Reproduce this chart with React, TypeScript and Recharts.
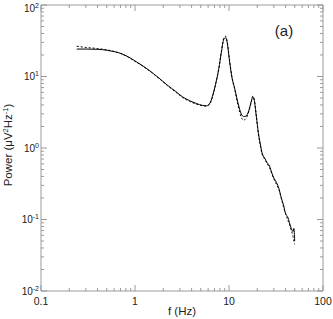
import React from 'react';
import { LineChart, Line, XAxis, YAxis } from 'recharts';

// frequency grid (Hz) and the two power spectra (uV^2/Hz)
const freqs = [
  0.24, 0.3, 0.4, 0.5, 0.6, 0.7, 0.85, 1.0, 1.2, 1.5, 1.8, 2.2, 2.7, 3.2, 3.8, 4.5,
  5.2, 5.8, 6.3, 6.8, 7.3, 7.8, 8.3, 8.8, 9.2, 9.6, 10.1, 10.7, 11.5, 12.5, 13.5,
  14.3, 15.2, 16.2, 17.2, 17.9, 18.6, 19.5, 20.5, 21.5, 22.5, 24, 25.5, 27, 28.5,
  30, 32, 34, 36, 38, 40, 42, 44, 46, 48, 49, 50,
];
const solidPower = [
  24.2, 24.2, 24.0, 23.3, 22.3, 21.1, 18.8, 16.5, 14.2, 11.5, 9.5, 7.6, 6.2, 5.2, 4.6, 4.2,
  3.95, 3.9, 4.3, 5.8, 8.5, 13, 22, 33, 35, 29, 17, 10, 6.8, 4.2, 3.0,
  2.75, 2.8, 3.3, 4.4, 5.2, 4.6, 2.8, 1.65, 1.15, 0.85, 0.72, 0.62, 0.56, 0.45,
  0.38, 0.33, 0.27, 0.2, 0.16, 0.12, 0.11, 0.09, 0.075, 0.068, 0.075, 0.05,
];
const dashedPower = [
  26.5, 25.5, 24.6, 23.6, 22.4, 21.0, 18.6, 16.3, 14.0, 11.4, 9.4, 7.5, 6.1, 5.1, 4.5, 4.1,
  3.9, 3.85, 4.2, 5.6, 8.3, 13, 22.5, 34.5, 36.5, 30, 17.5, 10.2, 6.6, 3.9, 2.7,
  2.45, 2.6, 3.2, 4.3, 5.3, 4.7, 2.9, 1.6, 1.1, 0.82, 0.7, 0.6, 0.53, 0.44,
  0.37, 0.31, 0.26, 0.2, 0.15, 0.12, 0.1, 0.085, 0.07, 0.058, 0.05, 0.045,
];

const xDecades = [0.1, 1, 10, 100];
const yDecades = [0.01, 0.1, 1, 10, 100];

const data = freqs.map((f, i) => ({ f, solid: solidPower[i], dashed: dashedPower[i] }));

// decade ticks plus the 2..9 minor ticks in between
const withMinors = (decades: number[]) => {
  const out: number[] = [];
  decades.forEach((d, i) => {
    out.push(d);
    if (i < decades.length - 1) for (let k = 2; k <= 9; k++) out.push(+(d * k).toPrecision(3));
  });
  return out;
};
const xTicks = withMinors(xDecades);
const yTicks = withMinors(yDecades);

const isDecade = (v: number) => Math.abs(Math.log10(v) - Math.round(Math.log10(v))) < 1e-6;

const AXIS = '#9a9a9a';
const TEXT = '#222';
const FONT = '"Liberation Sans", Arial, sans-serif';

const XTick = ({ x, y, payload, top }: any) => {
  const major = isDecade(payload.value);
  const len = major ? 6 : 3;
  return (
    <g>
      <line x1={x} x2={x} y1={y} y2={top ? y + len : y - len} stroke={AXIS} />
      {!top && major && (
        <text x={x} y={y + 14} textAnchor="middle" fontSize={10.5} fill={TEXT} fontFamily={FONT}>
          {payload.value}
        </text>
      )}
    </g>
  );
};

const YTick = ({ x, y, payload, right }: any) => {
  const major = isDecade(payload.value);
  const len = major ? 6 : 3;
  return (
    <g>
      <line x1={x} x2={right ? x - len : x + len} y1={y} y2={y} stroke={AXIS} />
      {!right && major && (
        // the top label is pushed down so it stays inside the picture
        <text x={x - 2} y={Math.max(y + 3.5, 12)} textAnchor="end" fontSize={10} fill={TEXT} fontFamily={FONT}>
          10<tspan dy={-4} fontSize={7}>{Math.round(Math.log10(payload.value))}</tspan>
        </text>
      )}
    </g>
  );
};

export default function App() {
  return (
    <div style={{ position: 'absolute', left: 0, top: 0, width: 333, height: 319, background: '#fff' }}>
      <LineChart width={333} height={319} data={data} margin={{ top: 0, right: 0, bottom: 0, left: 0 }}>
        <XAxis
          xAxisId="b" dataKey="f" type="number" scale="log" domain={[0.1, 100]} allowDataOverflow
          ticks={xTicks} interval={0} height={28} tickSize={0} tickMargin={0}
          axisLine={{ stroke: AXIS }} tick={<XTick />}
        />
        <XAxis
          xAxisId="t" dataKey="f" type="number" scale="log" domain={[0.1, 100]} allowDataOverflow
          orientation="top" ticks={xTicks} interval={0} height={5} tickSize={0} tickMargin={0}
          axisLine={{ stroke: AXIS }} tick={<XTick top />}
        />
        <YAxis
          yAxisId="l" type="number" scale="log" domain={[0.01, 100]} allowDataOverflow
          ticks={yTicks} interval={0} width={41} tickSize={0} tickMargin={0}
          axisLine={{ stroke: AXIS }} tick={<YTick />}
        />
        <YAxis
          yAxisId="r" type="number" scale="log" domain={[0.01, 100]} allowDataOverflow
          orientation="right" ticks={yTicks} interval={0} width={10} tickSize={0} tickMargin={0}
          axisLine={{ stroke: AXIS }} tick={<YTick right />}
        />
        <Line xAxisId="b" yAxisId="l" type="monotone" dataKey="solid" stroke="#000" strokeWidth={1} dot={false} isAnimationActive={false} />
        <Line xAxisId="b" yAxisId="l" type="monotone" dataKey="dashed" stroke="#000" strokeWidth={1} strokeDasharray="2 2" dot={false} isAnimationActive={false} />
        <text x={284} y={36} textAnchor="middle" fontSize={15} fill={TEXT} fontFamily={FONT}>(a)</text>
        <text x={182} y={315} textAnchor="middle" fontSize={11.5} fill={TEXT} fontFamily={FONT}>f (Hz)</text>
        <text transform="translate(12,145) rotate(-90)" textAnchor="middle" fontSize={11.5} fill={TEXT} fontFamily={FONT}>
          Power (μV<tspan dy={-4} fontSize={7.5}>2</tspan><tspan dy={4}>Hz</tspan><tspan dy={-4} fontSize={7.5}>-1</tspan><tspan dy={4}>)</tspan>
        </text>
      </LineChart>
    </div>
  );
}
